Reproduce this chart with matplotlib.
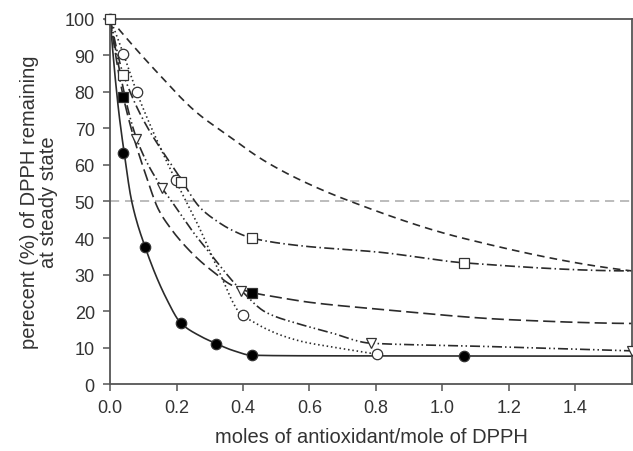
#!/usr/bin/env python3
from matplotlib import pyplot as plt
import numpy as np

plt.rcParams['font.family'] = ['Liberation Sans', 'DejaVu Sans']

# measured points (markers)
fcirc_x = [0.0, 0.04, 0.105, 0.213, 0.319, 0.426, 1.066]
fcirc_y = [100, 63.3, 37.6, 16.7, 11.0, 7.9, 7.8]
ocirc_x = [0.04, 0.08, 0.198, 0.399, 0.802]
ocirc_y = [90.4, 79.9, 55.9, 18.9, 8.2]
osq_x = [0.0, 0.04, 0.213, 0.426, 1.066]
osq_y = [100, 84.7, 55.4, 40.0, 33.2]
fsq_x = [0.04, 0.426]
fsq_y = [78.5, 24.9]
tri_x = [0.077, 0.155, 0.393, 0.784, 1.57]
tri_y = [67.1, 53.6, 25.6, 11.2, 9.1]

# curve points along each fitted line
fcirc_cx = [0.0, 0.025, 0.042, 0.065, 0.105, 0.17, 0.213, 0.27, 0.319, 0.37, 0.426, 0.6, 1.066, 1.57]
fcirc_cy = [100, 75.3, 63.5, 50.0, 37.6, 23.3, 16.7, 13.2, 11.1, 9.2, 7.9, 7.75, 7.7, 7.65]
ocirc_cx = [0.0, 0.04, 0.08, 0.195, 0.27, 0.32, 0.396, 0.42, 0.47, 0.52, 0.59, 0.66, 0.802]
ocirc_cy = [100, 90.4, 79.9, 56.2, 42.5, 32.4, 18.9, 17.6, 15.1, 13.2, 11.4, 10.3, 8.2]
osq_cx = [0.0, 0.04, 0.216, 0.27, 0.32, 0.37, 0.426, 0.571, 0.812, 1.066, 1.57]
osq_cy = [100, 84.7, 55.7, 48.4, 44.7, 42.0, 40.0, 37.9, 36.1, 33.2, 31.0]
fsq_cx = [0.0, 0.04, 0.115, 0.145, 0.18, 0.22, 0.27, 0.30, 0.37, 0.426, 0.51, 0.6, 0.81, 1.21, 1.57]
fsq_cy = [100, 78.5, 55.2, 47.9, 42.9, 38.4, 33.8, 31.5, 26.9, 25.1, 23.7, 22.4, 20.5, 17.6, 16.6]
tri_cx = [0.0, 0.08, 0.157, 0.18, 0.226, 0.25, 0.29, 0.391, 0.47, 0.571, 0.66, 0.784, 1.06, 1.57]
tri_cy = [100, 67.1, 53.6, 50.7, 44.7, 41.6, 37.0, 26.0, 19.6, 16.4, 14.2, 11.2, 10.5, 9.1]
dash_cx = [0.0, 0.135, 0.26, 0.356, 0.456, 0.556, 0.71, 1.06, 1.57]
dash_cy = [100, 86.0, 74.4, 68.0, 61.6, 56.6, 50.5, 40.0, 31.0]

x_ticks = [0.0, 0.2, 0.4, 0.6, 0.8, 1.0, 1.2, 1.4]
y_ticks = list(range(0, 101, 10))


def pchip(x, y, xs):
    # monotone cubic hermite through the curve points
    x = np.asarray(x, float)
    y = np.asarray(y, float)
    h = np.diff(x)
    d = np.diff(y) / h
    m = np.zeros_like(y)
    for k in range(1, len(x) - 1):
        if d[k - 1] * d[k] > 0:
            w1 = 2 * h[k] + h[k - 1]
            w2 = h[k] + 2 * h[k - 1]
            m[k] = (w1 + w2) / (w1 / d[k - 1] + w2 / d[k])

    def end(h0, h1, d0, d1):
        s = ((2 * h0 + h1) * d0 - h0 * d1) / (h0 + h1)
        if np.sign(s) != np.sign(d0):
            return 0.0
        if np.sign(d0) != np.sign(d1) and abs(s) > abs(3 * d0):
            return 3 * d0
        return s

    m[0] = end(h[0], h[1], d[0], d[1])
    m[-1] = end(h[-1], h[-2], d[-1], d[-2])
    i = np.clip(np.searchsorted(x, xs) - 1, 0, len(x) - 2)
    t = (xs - x[i]) / h[i]
    h00 = 2 * t**3 - 3 * t**2 + 1
    h10 = t**3 - 2 * t**2 + t
    h01 = -2 * t**3 + 3 * t**2
    h11 = t**3 - t**2
    return h00 * y[i] + h10 * h[i] * m[i] + h01 * y[i + 1] + h11 * h[i] * m[i + 1]


def curve(ax, cx, cy, ls):
    xs = np.linspace(cx[0], cx[-1], 600)
    ax.plot(xs, pchip(cx, cy, xs), color='#2b2b2b', lw=1.2, linestyle=ls)


def main():
    fig = plt.figure(figsize=(6.33, 4.52), dpi=100)
    ax = fig.add_axes([0.174, 0.148, 0.824, 0.808])

    ax.axhline(50, color='#b0b0b0', lw=1.2, linestyle=(0, (5.5, 3.5)), zorder=1)

    curve(ax, dash_cx, dash_cy, (0, (4.6, 3.1)))
    curve(ax, osq_cx, osq_cy, (0, (6.0, 2.0, 0.9, 2.0)))
    curve(ax, fsq_cx, fsq_cy, (0, (7.3, 3.0)))
    curve(ax, tri_cx, tri_cy, (0, (6.0, 1.8, 0.9, 1.8, 0.9, 1.8)))
    curve(ax, ocirc_cx, ocirc_cy, (0, (0.9, 1.7)))
    curve(ax, fcirc_cx, fcirc_cy, '-')

    mk = dict(linestyle='none', markersize=7.5, markeredgewidth=0.9,
              markeredgecolor='#333333', zorder=5)
    ax.plot(fcirc_x, fcirc_y, marker='o', markerfacecolor='black', clip_on=False, **mk)
    ax.plot(ocirc_x, ocirc_y, marker='o', markerfacecolor='white', **mk)
    ax.plot(fsq_x, fsq_y, marker='s', markerfacecolor='black', **dict(mk, markersize=7))
    ax.plot(tri_x, tri_y, marker='v', markerfacecolor='white', **mk)
    ax.plot(osq_x, osq_y, marker='s', markerfacecolor='white', clip_on=False,
            **dict(mk, markersize=7))

    ax.set_xlim(0, 1.57)
    ax.set_ylim(0, 100)
    ax.set_xticks(x_ticks)
    ax.set_xticklabels(['{:.1f}'.format(v) for v in x_ticks])
    ax.set_yticks(y_ticks)
    for s in ax.spines.values():
        s.set_color('#555555')
        s.set_linewidth(1.3)
    ax.tick_params(direction='out', length=5, width=1.1, color='#555555',
                   labelsize=13, pad=6, labelcolor='#333333')

    ax.set_xlabel('moles of antioxidant/mole of DPPH', fontsize=14.5,
                  color='#333333', labelpad=8)
    ax.set_ylabel('perecent (%) of DPPH remaining\nat steady state',
                  fontsize=14.5, color='#333333', labelpad=5, linespacing=1.0)

    fig.savefig('out.png', dpi=100)


if __name__ == "__main__":
    main()
